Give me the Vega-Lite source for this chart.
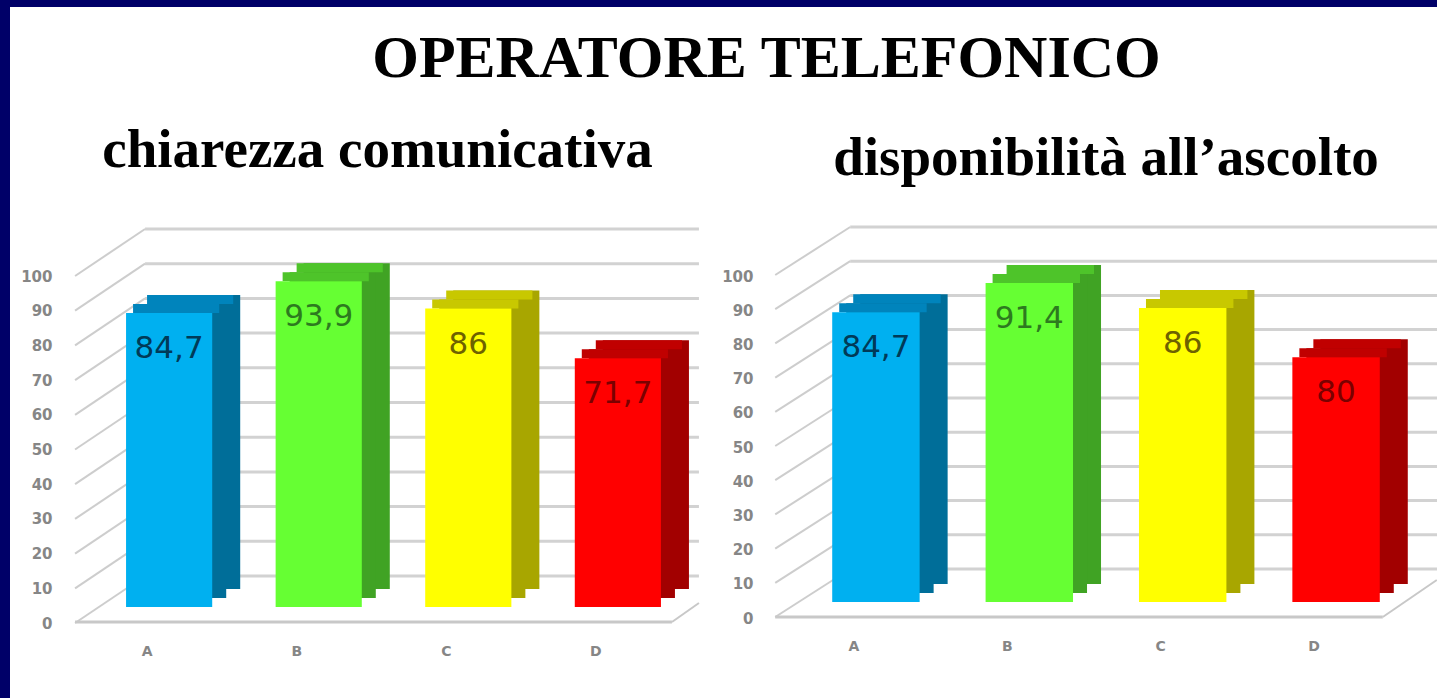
{
  "$schema": "https://vega.github.io/schema/vega-lite/v6.json",
  "padding": 0,
  "background": "#FFFFFF",
  "bounds": "flush",
  "spacing": 0,
  "config": {
    "view": {"stroke": null},
    "axisY": {"domain": false, "ticks": false, "tickSize": 0, "grid": false, "labelPadding": 22, "labelOffset": 16, "labelFont": "DejaVu Sans", "labelFontSize": 15, "labelFontWeight": "bold", "labelColor": "#868686", "tickCount": 10},
    "axisX": {"domain": false, "ticks": false, "tickSize": 0, "grid": false, "labelPadding": 37, "labelOffset": -22, "labelAngle": 0, "labelFont": "DejaVu Sans", "labelFontSize": 14, "labelFontWeight": "bold", "labelColor": "#868686"}
  },
  "datasets": {
    "ticks": [{"t": 0}, {"t": 10}, {"t": 20}, {"t": 30}, {"t": 40}, {"t": 50}, {"t": 60}, {"t": 70}, {"t": 80}, {"t": 90}, {"t": 100}],
    "left": [
      {"cat": "A", "bar": 84.7, "label": "84,7"},
      {"cat": "B", "bar": 93.9, "label": "93,9"},
      {"cat": "C", "bar": 86, "label": "86"},
      {"cat": "D", "bar": 71.7, "label": "71,7"}
    ],
    "right": [
      {"cat": "A", "bar": 84.7, "label": "84,7"},
      {"cat": "B", "bar": 93.3, "label": "91,4"},
      {"cat": "C", "bar": 86, "label": "86"},
      {"cat": "D", "bar": 71.6, "label": "80"}
    ]
  },
  "hconcat": [
    {
      "width": 10, "height": 698,
      "view": {"fill": "#000068", "stroke": null},
      "data": {"values": []},
      "mark": "point"
    },
    {
      "bounds": "flush",
      "spacing": 253,
      "vconcat": [
        {
          "width": 1427, "height": 7,
          "view": {"fill": "#000068", "stroke": null},
          "title": {"text": "OPERATORE TELEFONICO", "orient": "bottom", "anchor": "middle", "frame": "group", "offset": 70, "dx": 43, "baseline": "alphabetic", "font": "Liberation Serif", "fontSize": 60, "fontWeight": "bold", "color": "#000000"},
          "data": {"values": []},
          "mark": "point"
        },
        {
          "bounds": "flush",
          "spacing": 62,
          "hconcat": [
            {
              "width": 2, "height": 10,
              "data": {"values": []},
              "mark": "point"
            },
            {
              "width": 639, "height": 347,
              "title": {"text": "chiarezza comunicativa", "anchor": "middle", "frame": "group", "offset": 5.5, "dx": -16, "baseline": "alphabetic", "font": "Liberation Serif", "fontSize": 55, "fontWeight": "bold", "color": "#000000"},
              "resolve": {"scale": {"color": "independent"}},
              "layer": [
                {
                  "data": {"name": "ticks"},
                  "mark": {"type": "rule", "color": "#D2D2D2", "strokeWidth": 3, "yOffset": -31, "y2Offset": -31, "xOffset": 19, "x2Offset": 38},
                  "encoding": {
                    "x": {"datum": "A", "type": "nominal", "bandPosition": 0, "title": null},
                    "x2": {"datum": "D", "bandPosition": 1},
                    "y": {"field": "t", "type": "quantitative", "title": null, "scale": {"domain": [0, 100], "nice": false}},
                    "y2": {"field": "t"}
                  }
                },
                {
                  "data": {"name": "ticks"},
                  "mark": {"type": "rule", "color": "#CDCDCD", "strokeWidth": 2, "xOffset": -51, "x2Offset": 19, "yOffset": 16, "y2Offset": -31},
                  "encoding": {
                    "x": {"datum": "A", "type": "nominal", "bandPosition": 0, "title": null},
                    "x2": {"datum": "A", "bandPosition": 0},
                    "y": {"field": "t", "type": "quantitative", "title": null},
                    "y2": {"field": "t"}
                  }
                },
                {
                  "data": {"name": "ticks"},
                  "transform": [{"filter": "datum.t == 0"}],
                  "mark": {"type": "rule", "color": "#C8C8C8", "strokeWidth": 3, "yOffset": 15, "y2Offset": 15, "xOffset": -51, "x2Offset": 11},
                  "encoding": {
                    "x": {"datum": "A", "type": "nominal", "bandPosition": 0, "title": null},
                    "x2": {"datum": "D", "bandPosition": 1},
                    "y": {"field": "t", "type": "quantitative", "title": null},
                    "y2": {"field": "t"}
                  }
                },
                {
                  "data": {"name": "ticks"},
                  "transform": [{"filter": "datum.t == 0"}],
                  "mark": {"type": "rule", "color": "#C8C8C8", "strokeWidth": 2, "xOffset": 11, "x2Offset": 38, "yOffset": 15, "y2Offset": -4},
                  "encoding": {
                    "x": {"datum": "D", "type": "nominal", "bandPosition": 1, "title": null},
                    "x2": {"datum": "D", "bandPosition": 1},
                    "y": {"field": "t", "type": "quantitative", "title": null},
                    "y2": {"field": "t"}
                  }
                },
                {
                  "data": {"name": "left"},
                  "mark": {"type": "bar", "xOffset": 28, "yOffset": -18, "y2Offset": -18},
                  "encoding": {
                    "x": {"field": "cat", "type": "nominal", "title": null, "scale": {"paddingInner": 0.424, "paddingOuter": 0.348}},
                    "y": {"field": "bar", "type": "quantitative", "title": null},
                    "color": {"field": "cat", "type": "nominal", "legend": null, "scale": {"domain": ["A", "B", "C", "D"], "range": ["#006E99", "#40A324", "#A8A600", "#A20000"]}}
                  }
                },
                {
                  "data": {"name": "left"},
                  "mark": {"type": "bar", "xOffset": 14, "yOffset": -9, "y2Offset": -9},
                  "encoding": {
                    "x": {"field": "cat", "type": "nominal", "title": null},
                    "y": {"field": "bar", "type": "quantitative", "title": null},
                    "color": {"field": "cat", "type": "nominal", "legend": null, "scale": {"domain": ["A", "B", "C", "D"], "range": ["#006E99", "#40A324", "#A8A600", "#A20000"]}}
                  }
                },
                {
                  "data": {"name": "left"},
                  "mark": {"type": "bar", "xOffset": 21, "yOffset": -18, "y2Offset": -9},
                  "encoding": {
                    "x": {"field": "cat", "type": "nominal", "title": null},
                    "y": {"field": "bar", "type": "quantitative", "title": null},
                    "y2": {"field": "bar"},
                    "color": {"field": "cat", "type": "nominal", "legend": null, "scale": {"domain": ["A", "B", "C", "D"], "range": ["#0084BC", "#4EC42A", "#C8C800", "#C00000"]}}
                  }
                },
                {
                  "data": {"name": "left"},
                  "mark": {"type": "bar", "xOffset": 7, "yOffset": -9, "y2Offset": 0},
                  "encoding": {
                    "x": {"field": "cat", "type": "nominal", "title": null},
                    "y": {"field": "bar", "type": "quantitative", "title": null},
                    "y2": {"field": "bar"},
                    "color": {"field": "cat", "type": "nominal", "legend": null, "scale": {"domain": ["A", "B", "C", "D"], "range": ["#0084BC", "#4EC42A", "#C8C800", "#C00000"]}}
                  }
                },
                {
                  "data": {"name": "left"},
                  "mark": {"type": "bar"},
                  "encoding": {
                    "x": {"field": "cat", "type": "nominal", "title": null, "scale": {"paddingInner": 0.424, "paddingOuter": 0.348}},
                    "y": {"field": "bar", "type": "quantitative", "title": null, "scale": {"domain": [0, 100], "nice": false}},
                    "color": {"field": "cat", "type": "nominal", "legend": null, "scale": {"domain": ["A", "B", "C", "D"], "range": ["#00B0F0", "#66FF33", "#FFFF00", "#FF0000"]}}
                  }
                },
                {
                  "data": {"name": "left"},
                  "mark": {"type": "text", "font": "DejaVu Sans", "fontSize": 31, "baseline": "middle", "dy": 36},
                  "encoding": {
                    "x": {"field": "cat", "type": "nominal", "title": null},
                    "y": {"field": "bar", "type": "quantitative", "title": null},
                    "text": {"field": "label"},
                    "color": {"field": "cat", "type": "nominal", "legend": null, "scale": {"domain": ["A", "B", "C", "D"], "range": ["#003A58", "#2D7A1F", "#6E6200", "#7A0000"]}}
                  }
                }
              ]
            },
            {
              "width": 662, "height": 342,
              "title": {"text": "disponibilità all’ascolto", "anchor": "middle", "frame": "group", "offset": -4.5, "dx": 0, "baseline": "alphabetic", "font": "Liberation Serif", "fontSize": 55, "fontWeight": "bold", "color": "#000000"},
              "resolve": {"scale": {"color": "independent"}},
              "layer": [
                {
                  "data": {"name": "ticks"},
                  "mark": {"type": "rule", "color": "#D2D2D2", "strokeWidth": 3, "yOffset": -33, "y2Offset": -33, "xOffset": 18, "x2Offset": 60},
                  "encoding": {
                    "x": {"datum": "A", "type": "nominal", "bandPosition": 0, "title": null},
                    "x2": {"datum": "D", "bandPosition": 1},
                    "y": {"field": "t", "type": "quantitative", "title": null, "scale": {"domain": [0, 100], "nice": false}},
                    "y2": {"field": "t"}
                  }
                },
                {
                  "data": {"name": "ticks"},
                  "mark": {"type": "rule", "color": "#CDCDCD", "strokeWidth": 2, "xOffset": -57, "x2Offset": 18, "yOffset": 15, "y2Offset": -33},
                  "encoding": {
                    "x": {"datum": "A", "type": "nominal", "bandPosition": 0, "title": null},
                    "x2": {"datum": "A", "bandPosition": 0},
                    "y": {"field": "t", "type": "quantitative", "title": null},
                    "y2": {"field": "t"}
                  }
                },
                {
                  "data": {"name": "ticks"},
                  "transform": [{"filter": "datum.t == 0"}],
                  "mark": {"type": "rule", "color": "#C8C8C8", "strokeWidth": 3, "yOffset": 15, "y2Offset": 15, "xOffset": -57, "x2Offset": 3},
                  "encoding": {
                    "x": {"datum": "A", "type": "nominal", "bandPosition": 0, "title": null},
                    "x2": {"datum": "D", "bandPosition": 1},
                    "y": {"field": "t", "type": "quantitative", "title": null},
                    "y2": {"field": "t"}
                  }
                },
                {
                  "data": {"name": "ticks"},
                  "transform": [{"filter": "datum.t == 0"}],
                  "mark": {"type": "rule", "color": "#C8C8C8", "strokeWidth": 2, "xOffset": 3, "x2Offset": 57, "yOffset": 15, "y2Offset": -22},
                  "encoding": {
                    "x": {"datum": "D", "type": "nominal", "bandPosition": 1, "title": null},
                    "x2": {"datum": "D", "bandPosition": 1},
                    "y": {"field": "t", "type": "quantitative", "title": null},
                    "y2": {"field": "t"}
                  }
                },
                {
                  "data": {"name": "right"},
                  "mark": {"type": "bar", "xOffset": 28, "yOffset": -18, "y2Offset": -18},
                  "encoding": {
                    "x": {"field": "cat", "type": "nominal", "title": null, "scale": {"paddingInner": 0.43, "paddingOuter": 0.373}},
                    "y": {"field": "bar", "type": "quantitative", "title": null},
                    "color": {"field": "cat", "type": "nominal", "legend": null, "scale": {"domain": ["A", "B", "C", "D"], "range": ["#006E99", "#40A324", "#A8A600", "#A20000"]}}
                  }
                },
                {
                  "data": {"name": "right"},
                  "mark": {"type": "bar", "xOffset": 14, "yOffset": -9, "y2Offset": -9},
                  "encoding": {
                    "x": {"field": "cat", "type": "nominal", "title": null},
                    "y": {"field": "bar", "type": "quantitative", "title": null},
                    "color": {"field": "cat", "type": "nominal", "legend": null, "scale": {"domain": ["A", "B", "C", "D"], "range": ["#006E99", "#40A324", "#A8A600", "#A20000"]}}
                  }
                },
                {
                  "data": {"name": "right"},
                  "mark": {"type": "bar", "xOffset": 21, "yOffset": -18, "y2Offset": -9},
                  "encoding": {
                    "x": {"field": "cat", "type": "nominal", "title": null},
                    "y": {"field": "bar", "type": "quantitative", "title": null},
                    "y2": {"field": "bar"},
                    "color": {"field": "cat", "type": "nominal", "legend": null, "scale": {"domain": ["A", "B", "C", "D"], "range": ["#0084BC", "#4EC42A", "#C8C800", "#C00000"]}}
                  }
                },
                {
                  "data": {"name": "right"},
                  "mark": {"type": "bar", "xOffset": 7, "yOffset": -9, "y2Offset": 0},
                  "encoding": {
                    "x": {"field": "cat", "type": "nominal", "title": null},
                    "y": {"field": "bar", "type": "quantitative", "title": null},
                    "y2": {"field": "bar"},
                    "color": {"field": "cat", "type": "nominal", "legend": null, "scale": {"domain": ["A", "B", "C", "D"], "range": ["#0084BC", "#4EC42A", "#C8C800", "#C00000"]}}
                  }
                },
                {
                  "data": {"name": "right"},
                  "mark": {"type": "bar"},
                  "encoding": {
                    "x": {"field": "cat", "type": "nominal", "title": null, "scale": {"paddingInner": 0.43, "paddingOuter": 0.373}},
                    "y": {"field": "bar", "type": "quantitative", "title": null, "scale": {"domain": [0, 100], "nice": false}},
                    "color": {"field": "cat", "type": "nominal", "legend": null, "scale": {"domain": ["A", "B", "C", "D"], "range": ["#00B0F0", "#66FF33", "#FFFF00", "#FF0000"]}}
                  }
                },
                {
                  "data": {"name": "right"},
                  "mark": {"type": "text", "font": "DejaVu Sans", "fontSize": 31, "baseline": "middle", "dy": 36},
                  "encoding": {
                    "x": {"field": "cat", "type": "nominal", "title": null},
                    "y": {"field": "bar", "type": "quantitative", "title": null},
                    "text": {"field": "label"},
                    "color": {"field": "cat", "type": "nominal", "legend": null, "scale": {"domain": ["A", "B", "C", "D"], "range": ["#003A58", "#2D7A1F", "#6E6200", "#7A0000"]}}
                  }
                }
              ]
            }
          ]
        }
      ]
    }
  ]
}
